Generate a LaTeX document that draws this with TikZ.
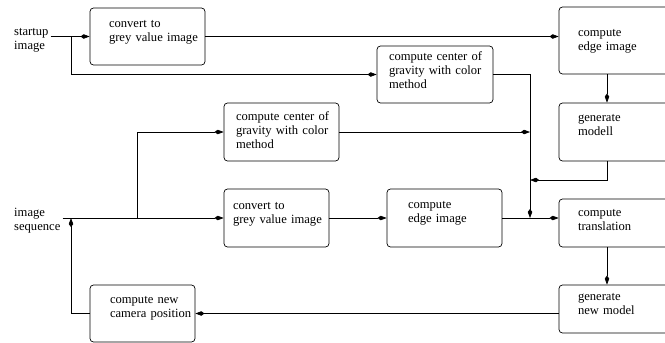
\documentclass[tikz,border=0pt]{standalone}
\usepackage{fontspec}
\setmainfont{Liberation Serif}
\usetikzlibrary{arrows.meta, positioning, calc}
\newcommand{\boxtext}[2][0pt]{\raisebox{#1}[\height][\depth]{\begin{tabular}{@{}l@{}}#2\end{tabular}}}

\begin{document}
\begin{tikzpicture}[x=1pt, y=-1pt,
  every node/.style={font=\fontsize{12.6}{14}\selectfont},
  b/.style={draw, line width=0.7pt, rounded corners=3.5pt, inner xsep=19pt, text width=#1},
  b/.default=78pt,
  a/.style={-{Kite[length=9pt, width=4.5pt, inset=3pt]}, line width=0.7pt},
  t/.style={align=left, inner sep=2pt, anchor=west}]
\useasboundingbox (0,0) rectangle (665,343);
% upper branch: startup image
\node[t] (start) at (12,40) {startup\\ image};
\node[b=77pt, minimum height=57pt] (conv1) at (147.5,36.5) {\boxtext[5pt]{convert to\\ grey value image}};
\node[b=92pt, inner xsep=12pt, minimum height=57pt] (cog1) at (435,74.5) {\boxtext[3pt]{compute center of\\ gravity with color\\ method}};
\node[b, minimum height=67pt] (edge1) at (617,40.5) {\boxtext{compute\\ edge image}};
\node[b, minimum height=58pt] (modell) at (617,132) {\boxtext[6pt]{generate\\ modell}};
% lower branch: image sequence
\node[t] (seq) at (12,221) {image\\ sequence};
\node[b=91pt, inner xsep=12pt, minimum height=58pt] (cog2) at (281.5,132) {\boxtext{compute center of\\ gravity with color\\ method}};
\node[b=87pt, inner xsep=9pt, minimum height=58pt] (conv2) at (276.5,218) {\boxtext[4pt]{convert to\\ grey value image}};
\node[b=73pt, inner xsep=21pt, minimum height=58pt] (edge2) at (444.5,218) {\boxtext[5pt]{compute\\ edge image}};
\node[b, minimum height=48pt] (trans) at (617,223) {\boxtext[2pt]{compute\\ translation}};
\node[b, minimum height=48pt] (newmod) at (617,309) {\boxtext[4pt]{generate\\ new model}};
\node[b=65pt, inner xsep=20pt, minimum height=57pt] (cam) at (142.5,313.5) {\boxtext[6pt]{compute new\\ camera position}};
% junctions
\coordinate (j1) at (71,36);
\coordinate (j2) at (137,218);
\coordinate (j3) at (71,218);
\coordinate (jm) at (530,218);
\coordinate (jb) at (530,180);
\coordinate (rc) at (607,0);
% connectors
\draw[a] (start.east |- conv1.west) -- (conv1.west);
\draw[a] (conv1.east) -- (edge1.west |- conv1.east);
\draw[a] (j1) |- (cog1.west);
\draw[a] (cog1.east) -| (jm);
\draw[a] (edge1.south -| rc) -- (modell.north -| rc);
\draw[a] (modell.south -| rc) |- (jb);
\draw[a] (seq.east |- conv2.west) -- (conv2.west);
\draw[a] (j2) |- (cog2.west);
\draw[a] (cog2.east) -- (cog2.east -| jm);
\draw[a] (conv2.east) -- (edge2.west);
\draw[a] (edge2.east) -- (trans.west |- edge2.east);
\draw[a] (trans.south -| rc) -- (newmod.north -| rc);
\draw[a] (newmod.west |- cam.east) -- (cam.east);
\draw[a] (cam.west) -| (j3);
\end{tikzpicture}
\end{document}
